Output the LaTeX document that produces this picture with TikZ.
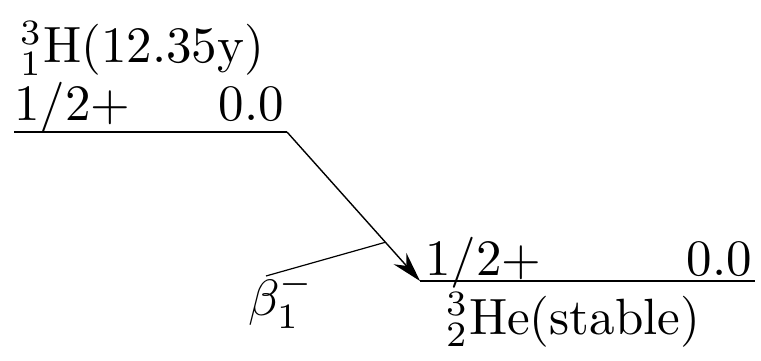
\documentclass[tikz,border=0pt]{standalone}
\usepackage{graphicx}
\usepackage{tikz}
\usetikzlibrary{arrows.meta, calc}

\newcommand{\bigtext}[1]{\scalebox{5.1}{#1}}

\tikzset{
  level/.style={line width=1.4pt},
  lbl/.style={inner sep=0pt},
}

\begin{document}
\begin{tikzpicture}[x=1pt, y=-1pt, >={Stealth[length=30pt, width=17pt]}]
  \useasboundingbox (0,0) rectangle (761,361);
  % level ends
  \coordinate (hL) at (14,132);
  \coordinate (hR) at (287,132);
  \coordinate (heL) at (420,281);
  \coordinate (heR) at (755,281);
  % levels
  \draw[level] (hL) -- (hR);
  \draw[level] (heL) -- (heR);
  % decay arrow
  \draw[level, ->] (hR) -- (heL);
  \coordinate (bEnd) at ($(hR)!0.74!(heL)$);
  \coordinate (bStart) at (266,276);
  \draw[line width=1.2pt] (bStart) -- (bEnd);
  % parent labels
  \node[lbl, anchor=base west] (hname) at (20,63) {\bigtext{${}^{3}_{1}$H(12.35y)}};
  \node[lbl, anchor=base west] (hspin) at (14,121) {\bigtext{1/2+}};
  \node[lbl, anchor=base east] (hen) at (284,121) {\bigtext{0.0}};
  % daughter labels
  \node[lbl, anchor=base west] (hespin) at (425,275) {\bigtext{1/2+}};
  \node[lbl, anchor=base east] (heen) at (752,275) {\bigtext{0.0}};
  \node[lbl, anchor=base west] (hename) at (446,334) {\bigtext{${}^{3}_{2}$He(stable)}};
  % beta
  \node[lbl, anchor=base west] (beta) at (248,315) {\bigtext{$\beta^{-}_{1}$}};
\end{tikzpicture}
\end{document}
